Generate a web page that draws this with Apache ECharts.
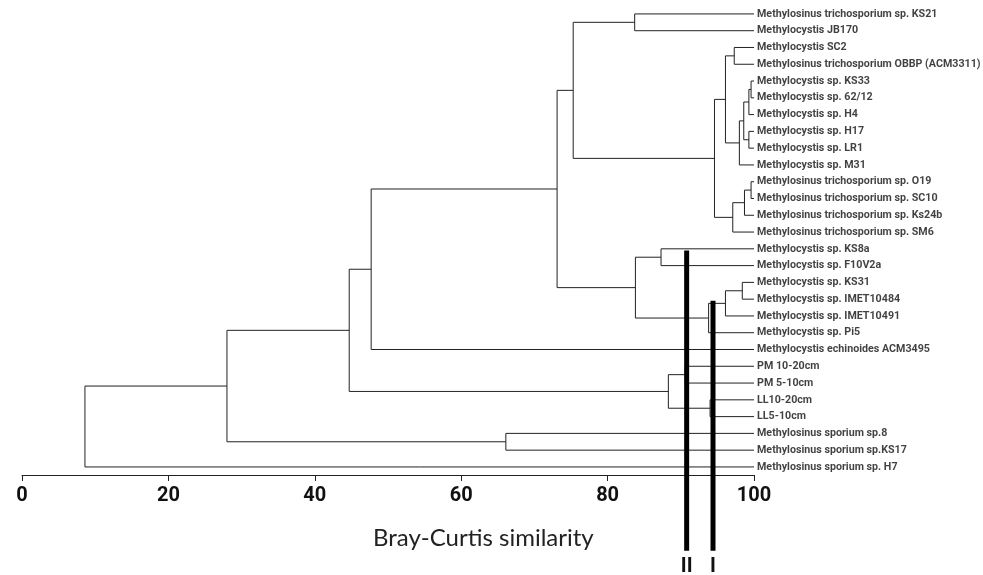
<!DOCTYPE html>
<html>
<head>
<meta charset="utf-8">
<title>Bray-Curtis dendrogram</title>
<script src="https://cdn.jsdelivr.net/npm/echarts@6/dist/echarts.min.js"></script>
<style>
  html, body { margin: 0; padding: 0; background: #fff; }
  #chart { width: 983px; height: 575px; }
</style>
</head>
<body>
<div id="chart"></div>
<script>
// leaves, top to bottom
var leafNames = [
  'Methylosinus trichosporium sp. KS21',
  'Methylocystis JB170',
  'Methylocystis SC2',
  'Methylosinus trichosporium OBBP (ACM3311)',
  'Methylocystis sp. KS33',
  'Methylocystis sp. 62/12',
  'Methylocystis sp. H4',
  'Methylocystis sp. H17',
  'Methylocystis sp. LR1',
  'Methylocystis sp. M31',
  'Methylosinus trichosporium sp. O19',
  'Methylosinus trichosporium sp. SC10',
  'Methylosinus trichosporium sp. Ks24b',
  'Methylosinus trichosporium sp. SM6',
  'Methylocystis sp. KS8a',
  'Methylocystis sp. F10V2a',
  'Methylocystis sp. KS31',
  'Methylocystis sp. IMET10484',
  'Methylocystis sp. IMET10491',
  'Methylocystis sp. Pi5',
  'Methylocystis echinoides ACM3495',
  'PM 10-20cm',
  'PM 5-10cm',
  'LL10-20cm',
  'LL5-10cm',
  'Methylosinus sporium sp.8',
  'Methylosinus sporium sp.KS17',
  'Methylosinus sporium sp. H7'
];

// merges: [child, child, similarity]
// child < 28 is a leaf, otherwise it is merge (child - 28)
var merges = [
  [0, 1, 83.7],    // 28
  [2, 3, 97.3],    // 29
  [4, 5, 99.6],    // 30
  [30, 6, 99.3],   // 31
  [7, 8, 99.3],    // 32
  [31, 32, 98.6],  // 33
  [33, 9, 98.0],   // 34
  [29, 34, 96.1],  // 35
  [10, 11, 99.6],  // 36
  [36, 12, 98.7],  // 37
  [37, 13, 97.1],  // 38
  [35, 38, 94.6],  // 39
  [28, 39, 75.3],  // 40
  [14, 15, 87.3],  // 41
  [16, 17, 98.4],  // 42
  [42, 18, 96.1],  // 43
  [43, 19, 93.8],  // 44
  [41, 44, 83.8],  // 45
  [40, 45, 73.1],  // 46
  [46, 20, 47.7],  // 47
  [21, 22, 90.6],  // 48
  [23, 24, 94.0],  // 49
  [48, 49, 88.3],  // 50
  [47, 50, 44.7],  // 51
  [25, 26, 66.1],  // 52
  [51, 52, 28.0],  // 53
  [53, 27, 8.6]    // 54 root
];

// cut-off lines (similarity, top row, bottom row)
var cutLabels = ['II', 'I'];
var cutValues = [90.8, 94.4];
var cutTops = [14.1, 17.1];
var cutBottom = 32.0;

// node positions: leaves sit at 100, merges at their similarity
var nLeaf = leafNames.length;
var nodeX = [], nodeY = [];
for (var i = 0; i < nLeaf; i++) {
  nodeX[i] = 100;
  nodeY[i] = i;
}
merges.forEach(function (m, k) {
  nodeX[nLeaf + k] = m[2];
  nodeY[nLeaf + k] = (nodeY[m[0]] + nodeY[m[1]]) / 2;
});

var branchData = merges.map(function (m) {
  var a = m[0], b = m[1];
  return {
    coords: [
      [nodeX[a], nodeY[a]],
      [m[2], nodeY[a]],
      [m[2], nodeY[b]],
      [nodeX[b], nodeY[b]]
    ]
  };
});

var leafData = leafNames.map(function (n, i) { return [100, i]; });
var cutData = cutValues.map(function (v, i) { return [v, cutTops[i], cutBottom]; });

var chart = echarts.init(document.getElementById('chart'));

var boldFont = 'Roboto, sans-serif';

chart.setOption({
  backgroundColor: '#fff',
  animation: false,
  grid: { left: 22, right: 229, top: 0, bottom: 100 },
  xAxis: {
    type: 'value',
    min: 0,
    max: 100,
    interval: 20,
    splitLine: { show: false },
    axisLine: { onZero: false, lineStyle: { color: '#222', width: 1 } },
    axisTick: { length: 6, lineStyle: { color: '#222' } },
    axisLabel: {
      margin: 11,
      color: '#111',
      fontSize: 20,
      fontWeight: 'bold',
      fontFamily: boldFont
    }
  },
  yAxis: {
    type: 'value',
    inverse: true,
    min: -0.83,
    max: 27.48,
    show: false
  },
  graphic: [
    {
      type: 'text',
      left: 373,
      top: 526,
      style: {
        text: 'Bray-Curtis similarity',
        fill: '#222',
        fontSize: 24,
        fontFamily: 'Lato, sans-serif'
      }
    }
  ],
  series: [
    {
      type: 'lines',
      coordinateSystem: 'cartesian2d',
      polyline: true,
      silent: true,
      lineStyle: { color: '#222', width: 1, opacity: 1 },
      data: branchData
    },
    {
      type: 'scatter',
      symbolSize: 0,
      silent: true,
      data: leafData,
      label: {
        show: true,
        position: 'right',
        distance: 3,
        color: '#111',
        fontSize: 10.7,
        fontWeight: 'bold',
        fontFamily: boldFont,
        formatter: function (p) { return leafNames[p.dataIndex]; }
      }
    },
    {
      type: 'custom',
      silent: true,
      clip: false,
      data: cutData,
      renderItem: function (params, api) {
        var top = api.coord([api.value(0), api.value(1)]);
        var bot = api.coord([api.value(0), api.value(2)]);
        return {
          type: 'group',
          children: [
            {
              type: 'rect',
              shape: { x: top[0] - 2.5, y: top[1], width: 5, height: bot[1] - top[1] },
              style: { fill: '#000' }
            },
            {
              type: 'text',
              x: top[0],
              y: bot[1] + 6,
              style: {
                text: cutLabels[params.dataIndex],
                fill: '#111',
                fontSize: 20,
                fontWeight: 'bold',
                fontFamily: boldFont,
                align: 'center',
                verticalAlign: 'top'
              }
            }
          ]
        };
      }
    }
  ]
});
</script>
</body>
</html>
